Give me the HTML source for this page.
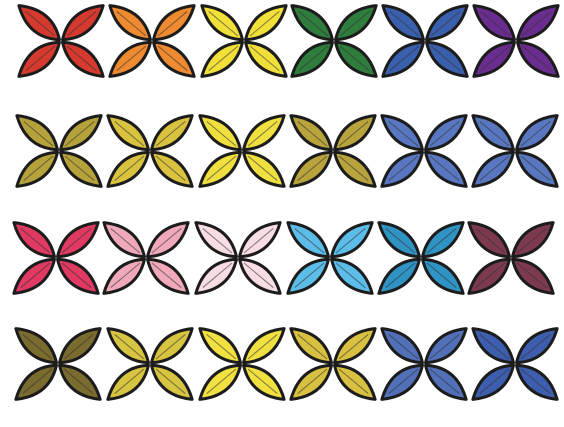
<!DOCTYPE html>
<html><head><meta charset="utf-8">
<style>html,body{margin:0;padding:0;background:#fff;width:564px;height:427px;overflow:hidden}</style>
</head><body>
<svg id="chart" width="564" height="427" xmlns="http://www.w3.org/2000/svg"></svg>
<script>
const rowY = [41, 151, 258, 364];
const rowX = [
  [61,152,244,334,425,516],
  [59,150,242,333,424,515],
  [56,146,238,330,421,511],
  [58,150,242,333,424,515]
];
const rowColors = [
  ['#d63a2e','#ee8a30','#f2e03a','#2f7d3c','#3a5fad','#6a2d8f'],
  ['#b5a23a','#d9c23e','#efe03f','#b8a33d','#5877c0','#5877c0'],
  ['#e03a63','#f0a9bb','#f8dde3','#5cbde9','#2f93c4','#7d3a4e'],
  ['#7a6b2e','#d7c440','#f0e040','#d8c140','#5270b8','#3d5eae']
];
const svg = document.getElementById('chart');
const NS = 'http://www.w3.org/2000/svg';
const angles = [-40, 40, 140, 220];
rowY.forEach((y, r) => {
  rowX[r].forEach((x, c) => {
    const g = document.createElementNS(NS, 'g');
    
    
    g.setAttribute('transform', 'translate(' + x + ',' + y + ')');
    angles.forEach(a => {
      const p = document.createElementNS(NS, 'path');
      
      
      p.setAttribute('d', 'M2,0 Q27,-19 55,0 Q27,19 2,0 Z');
      p.setAttribute('fill', rowColors[r][c]);
      p.setAttribute('stroke', '#1c1c1c');
      p.setAttribute('stroke-width', '3');
      p.setAttribute('stroke-linejoin', 'round');
      p.setAttribute('transform', 'rotate(' + a + ')');
      g.appendChild(p);
      const l = document.createElementNS(NS, 'line');
      
      
      l.setAttribute('x1', 8); l.setAttribute('y1', 0);
      l.setAttribute('x2', 46); l.setAttribute('y2', 0);
      l.setAttribute('stroke', '#333');
      l.setAttribute('stroke-width', '1');
      l.setAttribute('opacity', '0.6');
      l.setAttribute('transform', 'rotate(' + a + ')');
      g.appendChild(l);
    });
    svg.appendChild(g);
  });
});
</script>
</body></html>
